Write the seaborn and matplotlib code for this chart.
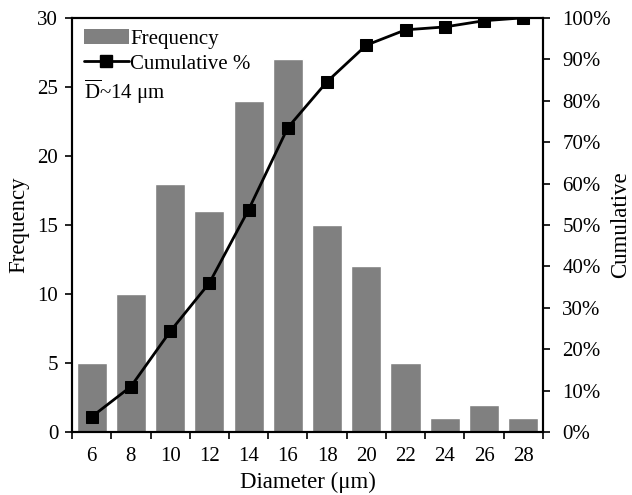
import matplotlib
matplotlib.use("Agg")
import matplotlib.pyplot as plt
import seaborn as sns
import pandas as pd
from matplotlib.lines import Line2D
from matplotlib.patches import Patch
from matplotlib.ticker import FuncFormatter

# Particle size distribution
diameters = [6, 8, 10, 12, 14, 16, 18, 20, 22, 24, 26, 28]
frequency = [5, 10, 18, 16, 24, 27, 15, 12, 5, 1, 2, 1]
cumulative = [3.7, 11.0, 24.3, 36.0, 53.7, 73.5, 84.6, 93.4, 97.1, 97.8, 99.3, 100.0]

sns.set_style("ticks")
plt.rcParams["font.family"] = ["Liberation Serif", "DejaVu Serif"]
plt.rcParams["mathtext.fontset"] = "custom"
plt.rcParams["mathtext.rm"] = "Liberation Serif"
plt.rcParams["text.color"] = "black"
plt.rcParams["axes.labelcolor"] = "black"
plt.rcParams["xtick.color"] = "black"
plt.rcParams["ytick.color"] = "black"

TICK_FS = 15
LABEL_FS = 16.5

df = pd.DataFrame({"d": [str(d) for d in diameters], "pos": range(len(diameters)),
                   "freq": frequency, "cum": cumulative})

fig = plt.figure(figsize=(6.32, 4.95), dpi=100)
ax = fig.add_axes([0.114, 0.127, 0.745, 0.837])

sns.barplot(data=df, x="d", y="freq", color="#808080", saturation=1,
            width=0.77, ax=ax, zorder=2)
ax.set_ylim(0, 30)
ax.set_xlim(-0.5, len(diameters) - 0.5)
ax.set_yticks(range(0, 31, 5))

# Ticks sit between categories, labels centred under the bars
n = len(diameters)
ax.set_xticks([i - 0.5 for i in range(n + 1)])
ax.set_xticklabels([])
ax.set_xticks(range(n), minor=True)
ax.set_xticklabels(df["d"], minor=True, fontsize=TICK_FS)
ax.tick_params(axis="x", which="minor", length=0, pad=11, labelsize=TICK_FS)
ax.tick_params(axis="x", which="major", length=5, width=1.2, direction="out")
ax.tick_params(axis="y", length=5, width=1.2, direction="out", pad=5,
               labelsize=TICK_FS)

ax.set_xlabel("Diameter (μm)", fontsize=LABEL_FS, labelpad=4)
ax.set_ylabel("Frequency", fontsize=LABEL_FS, labelpad=6)

ax2 = ax.twinx()
sns.lineplot(data=df, x="pos", y="cum", color="black", linewidth=2,
             marker="s", markersize=9, markeredgecolor="black", ax=ax2, zorder=3)
ax2.set_ylim(0, 100)
ax2.set_yticks(range(0, 101, 10))
ax2.yaxis.set_major_formatter(FuncFormatter(lambda v, p: f"{int(v)}%"))
ax2.tick_params(axis="y", length=5, width=1.2, direction="out", pad=9,
                labelsize=TICK_FS)
ax2.set_ylabel("Cumulative", fontsize=LABEL_FS, rotation=90, va="center")
ax2.yaxis.set_label_coords(1.165, 0.5)
ax2.set_xlabel("")
ax2.set_xlim(-0.5, n - 0.5)

for a in (ax, ax2):
    for s in a.spines.values():
        s.set_visible(True)
        s.set_linewidth(1.5)
        s.set_color("black")

handles = [Patch(facecolor="#808080", edgecolor="none"),
           Line2D([0], [0], color="black", linewidth=2, marker="s", markersize=9)]
leg = ax2.legend(handles, ["Frequency", "Cumulative %"], loc="upper left",
                 frameon=False, fontsize=TICK_FS, handlelength=2.2, handletextpad=0.05,
                 borderaxespad=0.15, labelspacing=0.25, bbox_to_anchor=(0.0, 1.0))
ax2.text(0.025, 0.82, r"$\overline{\mathrm{D}}$~14 μm", transform=ax2.transAxes,
         fontsize=TICK_FS, ha="left", va="center")

fig.savefig("out.png", dpi=100)
